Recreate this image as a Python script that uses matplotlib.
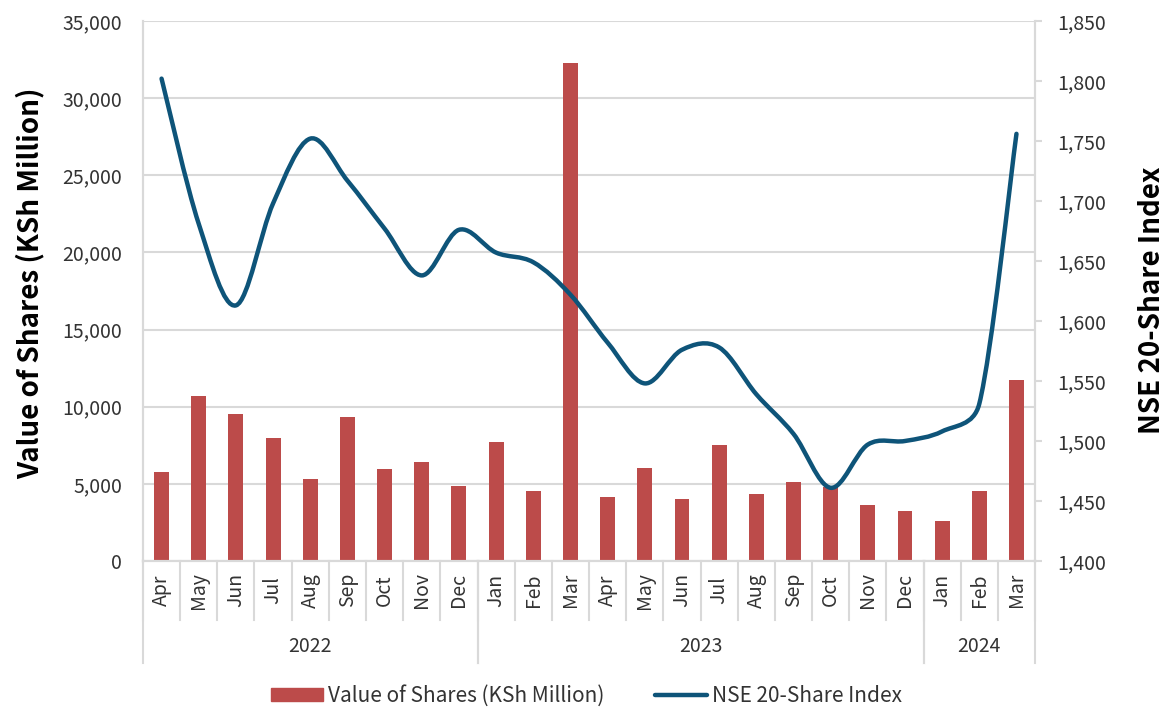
import matplotlib
matplotlib.use("Agg")
import matplotlib.pyplot as plt
from matplotlib.path import Path
from matplotlib.patches import PathPatch, Patch
from matplotlib.lines import Line2D
from matplotlib.ticker import FuncFormatter, MultipleLocator
import matplotlib.transforms as mtransforms

plt.rcParams["font.family"] = ["Noto Sans CJK JP", "DejaVu Sans"]

months = ["Apr", "May", "Jun", "Jul", "Aug", "Sep", "Oct", "Nov", "Dec",
          "Jan", "Feb", "Mar", "Apr", "May", "Jun", "Jul", "Aug", "Sep",
          "Oct", "Nov", "Dec", "Jan", "Feb", "Mar"]
years = ["2022", "2023", "2024"]
year_counts = [9, 12, 3]

share_value = [5770, 10720, 9560, 7950, 5290, 9330, 5960, 6420, 4870,
               7710, 4530, 32310, 4160, 6030, 4020, 7550, 4320, 5130,
               4800, 3630, 3210, 2610, 4530, 11710]
nse20_index = [1802, 1681, 1613, 1698, 1752, 1717, 1677, 1638, 1676,
               1657, 1649, 1622, 1582, 1548, 1576, 1578, 1539, 1506,
               1461, 1497, 1500, 1508, 1531, 1756]

BAR_COLOR = "#BC4B4A"
LINE_COLOR = "#0E5479"
GRID_COLOR = "#D9D9D9"
TEXT_COLOR = "#333333"


def smooth_path(xs, ys, trans):
    # spreadsheet-style smoothed line: bezier segments whose handles are
    # capped at half the segment length (measured on screen)
    pts = list(zip(xs, ys))
    scr = [tuple(trans.transform(p)) for p in pts]
    n = len(pts)

    def dist(a, b):
        return ((scr[a][0] - scr[b][0]) ** 2 + (scr[a][1] - scr[b][1]) ** 2) ** 0.5

    verts = [pts[0]]
    codes = [Path.MOVETO]
    for i in range(n - 1):
        i0 = max(i - 1, 0)
        i3 = min(i + 2, n - 1)
        p0, p1, p2, p3 = pts[i0], pts[i], pts[i + 1], pts[i3]
        d12 = dist(i, i + 1)
        d02 = dist(i0, i + 1)
        d13 = dist(i, i3)
        f1 = min(1 / 6, 0.5 * d12 / d02) if d02 > 0 else 0
        f2 = min(1 / 6, 0.5 * d12 / d13) if d13 > 0 else 0
        c1 = (p1[0] + f1 * (p2[0] - p0[0]), p1[1] + f1 * (p2[1] - p0[1]))
        c2 = (p2[0] - f2 * (p3[0] - p1[0]), p2[1] - f2 * (p3[1] - p1[1]))
        verts += [c1, c2, p2]
        codes += [Path.CURVE4] * 3
    return Path(verts, codes)


fig = plt.figure(figsize=(11.71, 7.13), dpi=100)
ax = fig.add_axes([0.1221, 0.2132, 0.7618, 0.7573])
ax2 = ax.twinx()

x = list(range(len(months)))
ax.bar(x, share_value, width=0.4, color=BAR_COLOR, zorder=2)
ax.set_xlim(-0.5, len(months) - 0.5)
ax.set_ylim(0, 35000)
ax.yaxis.set_major_locator(MultipleLocator(5000))
ax.yaxis.set_major_formatter(FuncFormatter(lambda v, p: f"{v:,.0f}"))
ax.grid(axis="y", color=GRID_COLOR, linewidth=1.5, zorder=0)
ax.set_axisbelow(True)

ax2.set_ylim(1400, 1850)
ax2.yaxis.set_major_locator(MultipleLocator(50))
ax2.yaxis.set_major_formatter(FuncFormatter(lambda v, p: f"{v:,.0f}"))
ax2.add_patch(PathPatch(smooth_path(x, nse20_index, ax2.transData),
                        facecolor="none", edgecolor=LINE_COLOR,
                        linewidth=3.2, capstyle="round", joinstyle="round",
                        zorder=3))

for a in (ax, ax2):
    for s in a.spines.values():
        s.set_color(GRID_COLOR)
        s.set_linewidth(1.5)
    a.spines["top"].set_visible(False)

ax.tick_params(axis="y", length=0, labelsize=14, pad=15,
               labelcolor=TEXT_COLOR)
ax2.tick_params(axis="y", length=5, width=1.5, color=GRID_COLOR,
                labelsize=14, pad=11, labelcolor=TEXT_COLOR)

ax.set_xticks(x)
ax.set_xticklabels(months, rotation=90, va="center", ha="center",
                   fontsize=14, color=TEXT_COLOR)
ax.tick_params(axis="x", length=0, pad=21)

ax.set_ylabel("Value of Shares (KSh Million)", fontsize=20,
              fontweight="bold")
ax.yaxis.set_label_coords(-0.1267, 0.515)
ax.yaxis.label.set_verticalalignment("center")
ax2.set_ylabel("NSE 20-Share Index", fontsize=20, fontweight="bold")
ax2.yaxis.set_label_coords(1.131, 0.483)
ax2.yaxis.label.set_verticalalignment("center")

# multi-level category axis separators
trans = mtransforms.blended_transform_factory(ax.transData, ax.transAxes)
month_depth = -0.109
year_depth = -0.189
for i in range(len(months) + 1):
    ax.plot([i - 0.5, i - 0.5], [0, month_depth], transform=trans,
            color=GRID_COLOR, linewidth=1.5, clip_on=False)
start = 0
for yr, cnt in zip(years, year_counts):
    for edge in (start - 0.5, start + cnt - 0.5):
        ax.plot([edge, edge], [0, year_depth], transform=trans,
                color=GRID_COLOR, linewidth=1.5, clip_on=False)
    ax.text(start + (cnt - 1) / 2, -0.159, yr, transform=trans,
            ha="center", va="center", fontsize=14, color=TEXT_COLOR)
    start += cnt

handles = [Patch(color=BAR_COLOR, label="Value of Shares (KSh Million)"),
           Line2D([0], [0], color=LINE_COLOR, linewidth=3.2,
                  solid_capstyle="round", label="NSE 20-Share Index")]
fig.legend(handles=handles, loc="center", bbox_to_anchor=(0.501, 0.024),
           ncol=2, frameon=False, fontsize=15, handlelength=2.5,
           handleheight=0.6, columnspacing=2.4, handletextpad=0.25,
           labelcolor=TEXT_COLOR)

fig.savefig("out.png", dpi=100)
